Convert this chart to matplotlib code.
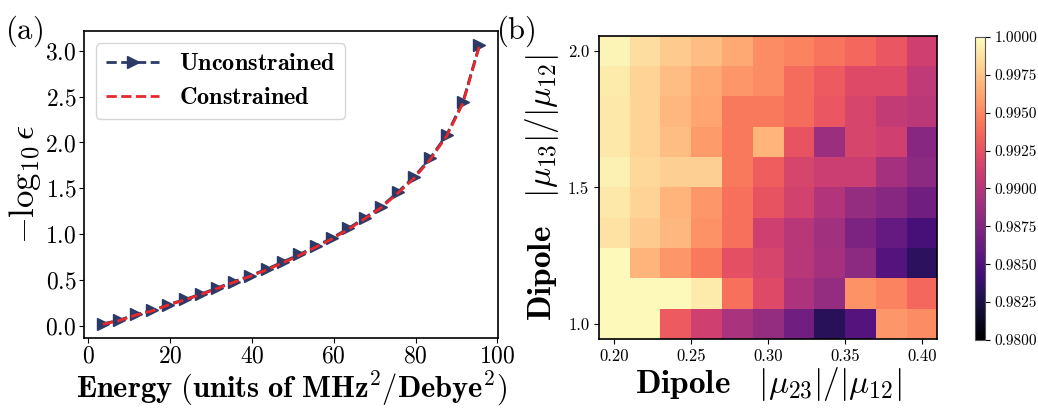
import matplotlib
matplotlib.use('Agg')
import matplotlib.pyplot as plt
import numpy as np

plt.rcParams['font.family'] = 'serif'
plt.rcParams['font.serif'] = ['cmr10', 'DejaVu Serif']
plt.rcParams['mathtext.fontset'] = 'cm'
plt.rcParams['axes.formatter.use_mathtext'] = True

# (a) fidelity curve vs energy budget
energy = [3.6, 7.6, 11.6, 15.6, 19.6, 23.6, 27.6, 31.6, 35.6, 39.6, 43.6, 47.6,
          51.6, 55.6, 59.6, 63.6, 67.6, 71.6, 75.6, 79.6, 83.6, 87.6, 91.6, 95.6]
unconstrained = [0.025, 0.065, 0.127, 0.17, 0.235, 0.29, 0.35, 0.417, 0.485, 0.55,
                 0.62, 0.70, 0.78, 0.87, 0.96, 1.065, 1.18, 1.30, 1.457, 1.623,
                 1.83, 2.083, 2.446, 3.062]
constrained = [0.02, 0.06, 0.12, 0.165, 0.23, 0.285, 0.345, 0.41, 0.478, 0.543,
               0.612, 0.69, 0.77, 0.86, 0.95, 1.055, 1.17, 1.29, 1.445, 1.61,
               1.815, 2.07, 2.43, 3.05]

# (b) fidelity map over dipole ratios
mu23 = [0.20, 0.22, 0.24, 0.26, 0.28, 0.30, 0.32, 0.34, 0.36, 0.38, 0.40]
mu13 = [1.0, 1.111, 1.222, 1.333, 1.444, 1.556, 1.667, 1.778, 1.889, 2.0]
# rows listed from mu13 = 2.0 down to mu13 = 1.0
fidelity = [
    [0.9996, 0.9986, 0.9978, 0.9972, 0.9964, 0.9952, 0.9948, 0.9942, 0.9936, 0.9928, 0.9912],
    [0.9992, 0.9982, 0.9972, 0.9964, 0.9956, 0.9952, 0.9938, 0.9930, 0.9920, 0.9920, 0.9904],
    [0.9990, 0.9982, 0.9970, 0.9962, 0.9944, 0.9944, 0.9938, 0.9928, 0.9916, 0.9906, 0.9902],
    [0.9990, 0.9982, 0.9972, 0.9958, 0.9944, 0.9968, 0.9926, 0.9888, 0.9916, 0.9912, 0.9878],
    [0.9994, 0.9984, 0.9980, 0.9980, 0.9944, 0.9932, 0.9916, 0.9910, 0.9910, 0.9892, 0.9880],
    [0.9990, 0.9982, 0.9968, 0.9956, 0.9940, 0.9926, 0.9914, 0.9898, 0.9884, 0.9878, 0.9866],
    [0.9988, 0.9978, 0.9970, 0.9954, 0.9940, 0.9912, 0.9900, 0.9890, 0.9872, 0.9860, 0.9846],
    [0.9998, 0.9968, 0.9956, 0.9944, 0.9924, 0.9916, 0.9900, 0.9892, 0.9880, 0.9852, 0.9833],
    [0.9998, 0.9998, 0.9998, 0.9992, 0.9940, 0.9920, 0.9896, 0.9884, 0.9954, 0.9948, 0.9936],
    [0.9998, 0.9998, 0.9930, 0.9912, 0.9894, 0.9884, 0.9866, 0.9832, 0.9852, 0.9956, 0.9952],
]

fig = plt.figure(figsize=(10.38, 4.08), dpi=100)

# ---- left panel
ax1 = fig.add_axes([0.081, 0.171, 0.399, 0.753])
ax1.plot(energy, unconstrained, '--', color='#2b3a67', lw=2, marker='>', ms=8,
         label=r'$\mathbf{Unconstrained}$')
ax1.plot(energy, constrained, '--', color='#e8282b', lw=2,
         label=r'$\mathbf{Constrained}$')
ax1.set_xticks([0, 20, 40, 60, 80, 100])
ax1.set_yticks([0.0, 0.5, 1.0, 1.5, 2.0, 2.5, 3.0])
ax1.tick_params(labelsize=17, pad=2)
ax1.set_xlabel(r'$\mathbf{Energy\ (units\ of\ MHz^2/Debye^2)}$', fontsize=22, labelpad=0)
ax1.set_ylabel(r'$-\log_{\mathbf{10}}\epsilon$', fontsize=25, labelpad=2)
ax1.legend(loc='upper left', fontsize=17.5, handlelength=2.2)
for s in ax1.spines.values():
    s.set_linewidth(1.2)
fig.text(0.005, 0.905, r'$\mathrm{(a)}$', fontsize=22)

# ---- right panel
ax2 = fig.add_axes([0.577, 0.169, 0.326, 0.743])
x_edges = np.append(np.array(mu23) - 0.01, mu23[-1] + 0.01)
y_step = mu13[1] - mu13[0]
y_edges = np.append(np.array(mu13) - y_step / 2, mu13[-1] + y_step / 2)
Z = np.array(fidelity)[::-1]
mesh = ax2.pcolormesh(x_edges, y_edges, Z, cmap='magma', vmin=0.98, vmax=1.0)
ax2.set_xticks([0.20, 0.25, 0.30, 0.35, 0.40])
ax2.set_xticklabels(['0.20', '0.25', '0.30', '0.35', '0.40'])
ax2.set_yticks([1.0, 1.5, 2.0])
ax2.set_yticklabels(['1.0', '1.5', '2.0'])
ax2.tick_params(labelsize=12)
ax2.set_xlabel(r'$\mathbf{Dipole}\quad |\mu_{\mathbf{23}}|/|\mu_{\mathbf{12}}|$', fontsize=24, labelpad=1)
ax2.set_ylabel(r'$\mathbf{Dipole}\quad |\mu_{\mathbf{13}}|/|\mu_{\mathbf{12}}|$', fontsize=24, labelpad=5)
for s in ax2.spines.values():
    s.set_linewidth(1.2)
fig.text(0.478, 0.905, r'$\mathrm{(b)}$', fontsize=22)

cax = fig.add_axes([0.939, 0.167, 0.010, 0.742])
cb = fig.colorbar(mesh, cax=cax)
cb.set_ticks([0.98, 0.9825, 0.985, 0.9875, 0.99, 0.9925, 0.995, 0.9975, 1.0])
cb.set_ticklabels(['%.4f' % t for t in [0.98, 0.9825, 0.985, 0.9875, 0.99, 0.9925, 0.995, 0.9975, 1.0]])
cb.ax.tick_params(labelsize=11)
cb.outline.set_linewidth(0.8)
cb.outline.set_edgecolor('#555555')

plt.savefig('out.png', dpi=100)
